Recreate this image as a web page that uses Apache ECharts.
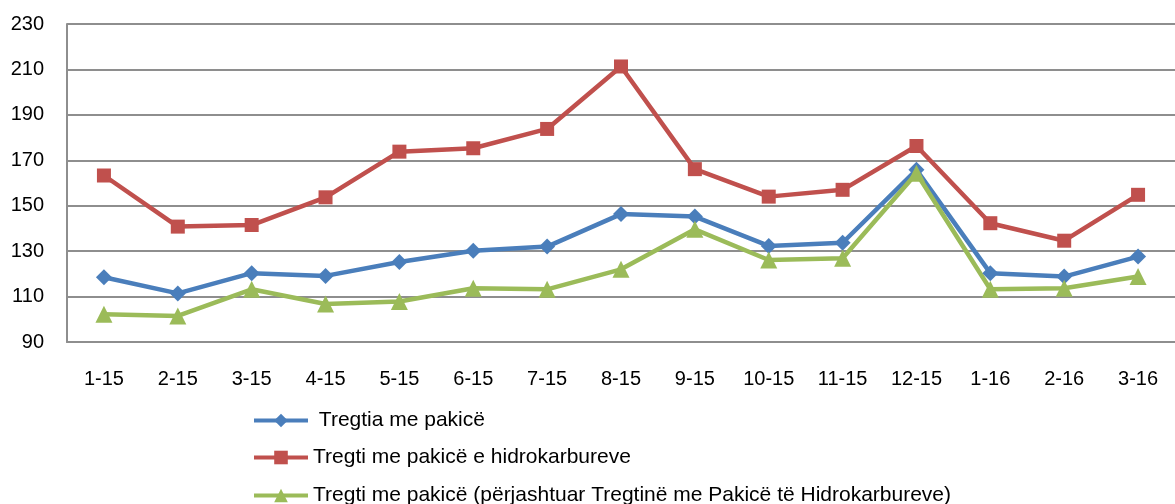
<!DOCTYPE html>
<html>
<head>
<meta charset="utf-8">
<script src="https://cdn.jsdelivr.net/npm/echarts@6/dist/echarts.min.js"></script>
<style>
  html, body { margin: 0; padding: 0; background: #fff; }
  #chart { width: 1175px; height: 504px; }
</style>
</head>
<body>
<div id="chart"></div>
<script>
// ── data ──
const months = ["1-15", "2-15", "3-15", "4-15", "5-15", "6-15", "7-15", "8-15",
  "9-15", "10-15", "11-15", "12-15", "1-16", "2-16", "3-16"];

const retail = [118.5, 111.4, 120.3, 119.1, 125.2, 130.2, 132.0, 146.3,
  145.2, 132.3, 133.7, 165.8, 120.3, 118.8, 127.6];

const retailFuel = [163.3, 140.8, 141.5, 153.7, 173.8, 175.3, 183.8, 211.3,
  166.1, 154.0, 157.0, 176.3, 142.3, 134.6, 154.8];

const retailExFuel = [102.2, 101.5, 113.2, 106.7, 107.8, 113.7, 113.2, 122.0,
  139.6, 126.1, 126.9, 164.3, 113.2, 113.7, 118.8];

const seriesNames = [
  " Tregtia me pakicë",
  "Tregti me pakicë e hidrokarbureve",
  "Tregti me pakicë (përjashtuar Tregtinë me Pakicë të Hidrokarbureve)",
];

// ── styles ──
const COLORS = ["#4a7ebb", "#c0504d", "#9bbb59"];
const GRID_COLOR = "#8e8e8e";
const FONT = "Liberation Sans, Arial, sans-serif";
const LEGEND_TOPS = [410, 447, 485];

const chart = echarts.init(document.getElementById("chart"));

function lineSeries(name, data, color, symbol, size) {
  return {
    name: name,
    type: "line",
    data: data,
    symbol: symbol,
    symbolSize: size,
    lineStyle: { width: 4.5, color: color },
    itemStyle: { color: color },
    emphasis: { disabled: true },
  };
}

// one legend per row, so the rows never wrap into columns
const legends = seriesNames.map((name, i) => ({
  orient: "vertical",
  left: 252,
  top: LEGEND_TOPS[i],
  padding: 0,
  itemWidth: 54,
  itemHeight: 17,
  lineStyle: { width: 4 },
  textStyle: { fontSize: 21, color: "#000", fontFamily: FONT },
  data: [name],
}));

chart.setOption({
  animation: false,
  textStyle: { fontFamily: FONT },
  grid: {
    left: 67,
    top: 24,
    width: 1124,
    height: 318,
  },
  legend: legends,
  xAxis: {
    type: "category",
    data: months,
    boundaryGap: true,
    axisLine: { show: true, lineStyle: { color: GRID_COLOR, width: 2 } },
    axisTick: { show: false },
    axisLabel: { color: "#000", fontSize: 20, margin: 27, fontFamily: FONT },
  },
  yAxis: {
    type: "value",
    min: 90,
    max: 230,
    interval: 20,
    axisLine: { show: true, lineStyle: { color: GRID_COLOR, width: 2 } },
    axisTick: { show: false },
    axisLabel: { color: "#000", fontSize: 20, margin: 23, fontFamily: FONT },
    splitLine: { show: true, lineStyle: { color: GRID_COLOR, width: 2 } },
  },
  series: [
    lineSeries(seriesNames[0], retail, COLORS[0], "diamond", 16),
    lineSeries(seriesNames[1], retailFuel, COLORS[1], "rect", 14),
    lineSeries(seriesNames[2], retailExFuel, COLORS[2], "triangle", 17),
  ],
});
</script>
</body>
</html>
